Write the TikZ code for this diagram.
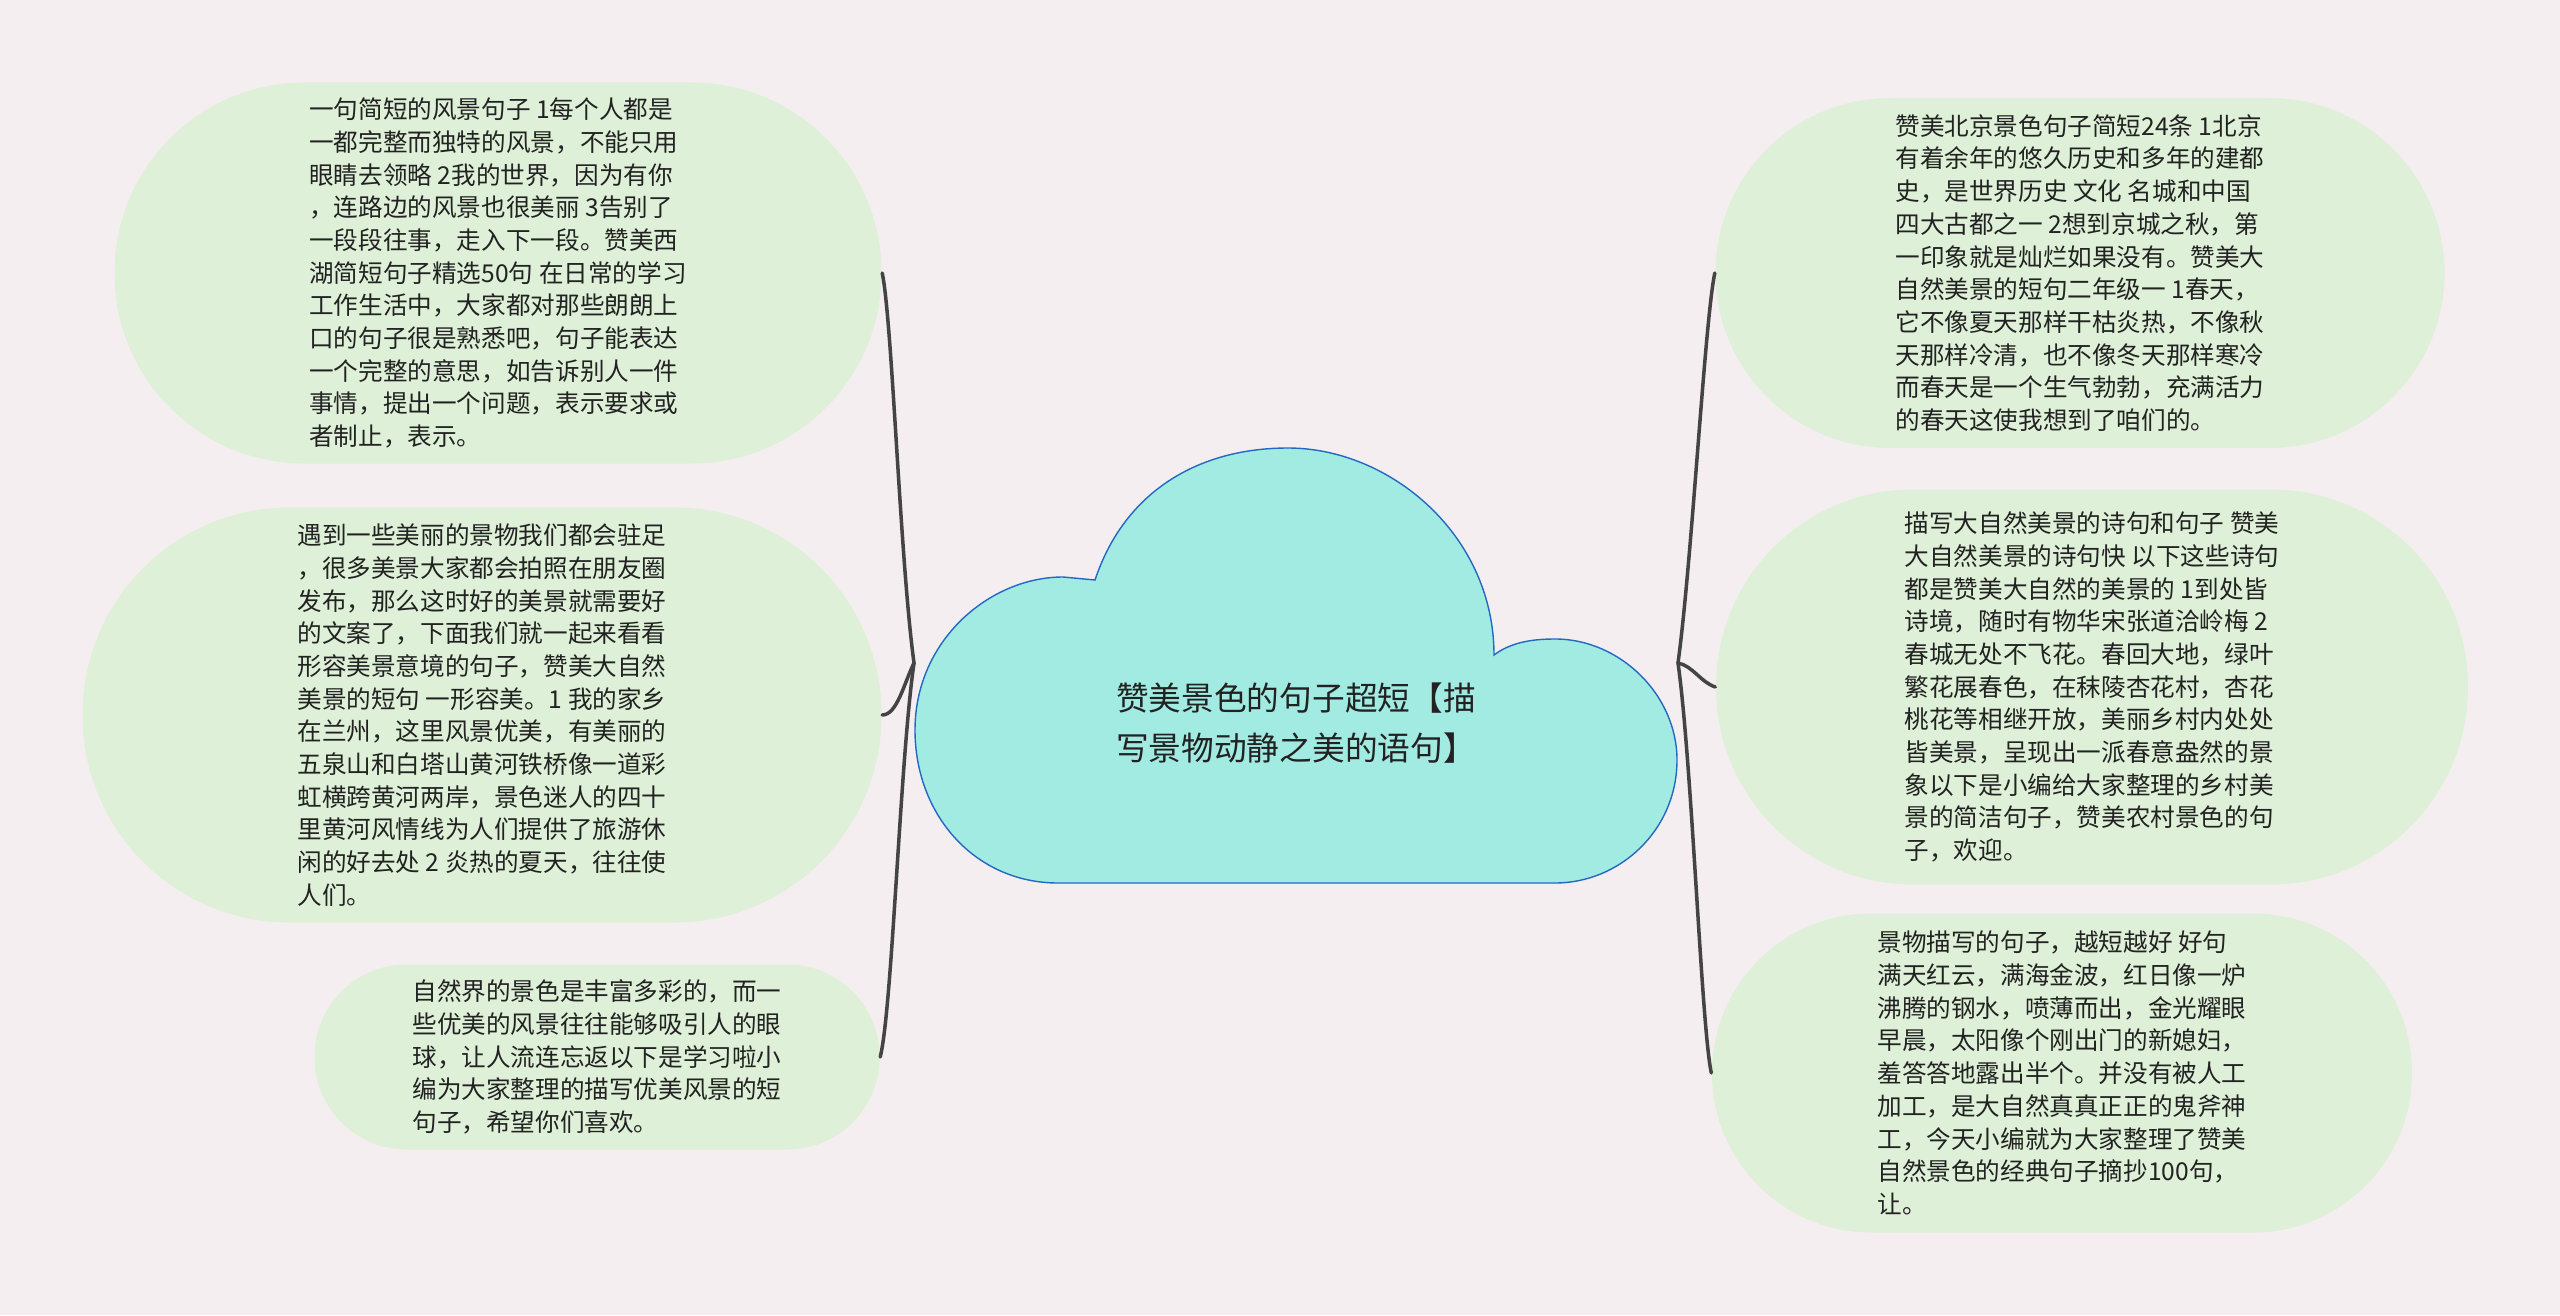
\documentclass[tikz,border=0pt]{standalone}
\usepackage{fontspec}
\setmainfont{Noto Sans CJK SC}
\definecolor{bgpink}{RGB}{245,238,240}
\definecolor{leafgreen}{RGB}{222,240,215}
\definecolor{cloudcyan}{RGB}{161,235,226}
\definecolor{cloudblue}{RGB}{35,105,195}
\definecolor{linegrey}{RGB}{68,68,68}
\definecolor{textdark}{RGB}{34,34,34}
\tikzset{
  leaf/.style={fill=leafgreen, inner sep=0pt, align=left, text=textdark, font=\fontsize{7pt}{9.3pt}\selectfont},
  branch/.style={draw=linegrey, line width=1pt, line cap=round},
}

\begin{document}
\begin{tikzpicture}
  % background
  \fill[bgpink] (0,0) rectangle (25.6,13.15);
  \useasboundingbox (0,0) rectangle (25.6,13.15);

  %--- central cloud ---
  \draw[fill=cloudcyan, draw=cloudblue, line width=0.4pt]
    (10.58,4.32) .. controls (9.75,4.32) and (9.15,5.0) .. (9.15,5.85)
    .. controls (9.15,6.75) and (9.9,7.38) .. (10.63,7.38)
    -- (10.95,7.35)
    .. controls (11.25,8.25) and (12.0,8.67) .. (12.88,8.67)
    .. controls (13.9,8.67) and (14.94,7.8) .. (14.94,6.60)
    .. controls (15.1,6.72) and (15.3,6.76) .. (15.55,6.76)
    .. controls (16.2,6.76) and (16.77,6.2) .. (16.77,5.55)
    .. controls (16.77,4.85) and (16.2,4.32) .. (15.55,4.32)
    -- cycle;
  \node[font=\fontsize{9.3pt}{14.2pt}\selectfont, text=textdark, align=center] (topic) at (12.96,5.92)
    {赞美景色的句子超短【描\\写景物动静之美的语句】};
  \coordinate (cloudW) at (9.14,6.52);
  \coordinate (cloudE) at (16.78,6.52);

  %--- left branches ---
  \node[leaf, minimum width=7.67cm, minimum height=3.81cm, rounded corners=1.9cm] (leftA) at (4.98,10.42)
    {一句简短的风景句子 1每个人都是\\一都完整而独特的风景，不能只用\\眼睛去领略 2我的世界，因为有你\\，连路边的风景也很美丽 3告别了\\一段段往事，走入下一段。赞美西\\湖简短句子精选50句 在日常的学习\\工作生活中，大家都对那些朗朗上\\口的句子很是熟悉吧，句子能表达\\一个完整的意思，如告诉别人一件\\事情，提出一个问题，表示要求或\\者制止，表示。};

  \node[leaf, minimum width=7.99cm, minimum height=4.15cm, rounded corners=2.07cm] (leftB) at (4.82,6.0)
    {遇到一些美丽的景物我们都会驻足\\，很多美景大家都会拍照在朋友圈\\发布，那么这时好的美景就需要好\\的文案了，下面我们就一起来看看\\形容美景意境的句子，赞美大自然\\美景的短句 一形容美。1 我的家乡\\在兰州，这里风景优美，有美丽的\\五泉山和白塔山黄河铁桥像一道彩\\虹横跨黄河两岸，景色迷人的四十\\里黄河风情线为人们提供了旅游休\\闲的好去处 2 炎热的夏天，往往使\\人们。};

  \node[leaf, minimum width=5.65cm, minimum height=1.85cm, rounded corners=0.92cm] (leftC) at (5.97,2.58)
    {自然界的景色是丰富多彩的，而一\\些优美的风景往往能够吸引人的眼\\球，让人流连忘返以下是学习啦小\\编为大家整理的描写优美风景的短\\句子，希望你们喜欢。};

  %--- right branches ---
  \node[leaf, minimum width=7.29cm, minimum height=3.5cm, rounded corners=1.75cm] (rightA) at (20.8,10.42)
    {赞美北京景色句子简短24条 1北京\\有着余年的悠久历史和多年的建都\\史，是世界历史 文化 名城和中国\\四大古都之一 2想到京城之秋，第\\一印象就是灿烂如果没有。赞美大\\自然美景的短句二年级一 1春天，\\它不像夏天那样干枯炎热，不像秋\\天那样冷清，也不像冬天那样寒冷\\而春天是一个生气勃勃，充满活力\\的春天这使我想到了咱们的。};

  \node[leaf, minimum width=7.52cm, minimum height=3.95cm, rounded corners=1.97cm] (rightB) at (20.92,6.28)
    {描写大自然美景的诗句和句子 赞美\\大自然美景的诗句快 以下这些诗句\\都是赞美大自然的美景的 1到处皆\\诗境，随时有物华宋张道洽岭梅 2\\春城无处不飞花。春回大地，绿叶\\繁花展春色，在秣陵杏花村，杏花\\桃花等相继开放，美丽乡村内处处\\皆美景，呈现出一派春意盎然的景\\象以下是小编给大家整理的乡村美\\景的简洁句子，赞美农村景色的句\\子，欢迎。};

  \node[leaf, minimum width=7.0cm, minimum height=3.19cm, rounded corners=1.59cm] (rightC) at (20.62,2.42)
    {景物描写的句子，越短越好 好句\\满天红云，满海金波，红日像一炉\\沸腾的钢水，喷薄而出，金光耀眼\\早晨，太阳像个刚出门的新媳妇，\\羞答答地露出半个。并没有被人工\\加工，是大自然真真正正的鬼斧神\\工，今天小编就为大家整理了赞美\\自然景色的经典句子摘抄100句，\\让。};

  %--- connectors ---
  \draw[branch] (cloudW) .. controls +(-0.14,1.03) and +(0.10,-0.47) .. (leftA.east);
  \draw[branch] (cloudW) .. controls +(-0.10,-0.20) and +(0.15,0) .. (leftB.east);
  \draw[branch] (cloudW) .. controls +(-0.14,-0.97) and +(0.12,0.47) .. (leftC.east);
  \draw[branch] (cloudE) .. controls +(0.14,1.03) and +(-0.10,-0.47) .. (rightA.west);
  \draw[branch] (cloudE) .. controls +(0.15,-0.03) and +(-0.15,0.05) .. (rightB.west);
  \draw[branch] (cloudE) .. controls +(0.14,-1.0) and +(-0.10,0.47) .. (rightC.west);
\end{tikzpicture}
\end{document}
